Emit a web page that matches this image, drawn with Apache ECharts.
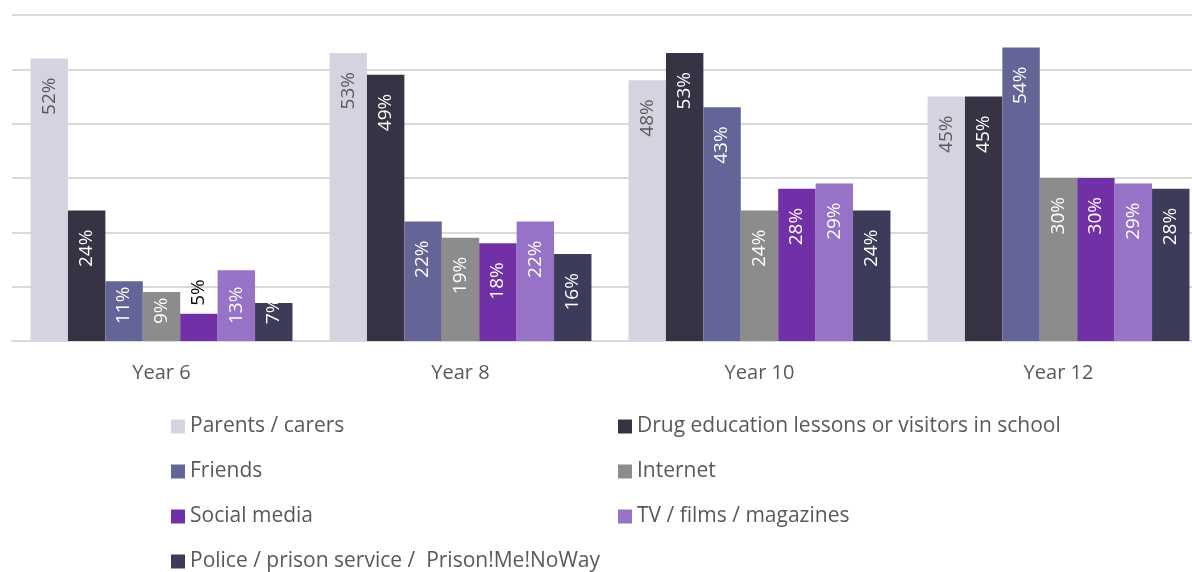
<!DOCTYPE html>
<html><head><meta charset="utf-8">
<script src="https://cdn.jsdelivr.net/npm/echarts@6/dist/echarts.min.js"></script>
<style>html,body{margin:0;padding:0;background:#fff}#c{width:1192px;height:572px}</style>
</head><body><div id="c"></div>
<script>
const categories = ['Year 6', 'Year 8', 'Year 10', 'Year 12'];
const parents = [52, 53, 48, 45];
const drugEducation = [24, 49, 53, 45];
const friends = [11, 22, 43, 54];
const internet = [9, 19, 24, 30];
const socialMedia = [5, 18, 28, 30];
const tvFilms = [13, 22, 29, 29];
const police = [7, 16, 24, 28];

const seriesDefs = [
  {name: 'Parents / carers', data: parents, color: '#D4D3E0', label: '#595959'},
  {name: 'Drug education lessons or visitors in school', data: drugEducation, color: '#373345', label: '#FFFFFF'},
  {name: 'Friends', data: friends, color: '#646496', label: '#FFFFFF'},
  {name: 'Internet', data: internet, color: '#8C8C8C', label: '#FFFFFF'},
  {name: 'Social media', data: socialMedia, color: '#7230A6', label: '#FFFFFF'},
  {name: 'TV / films / magazines', data: tvFilms, color: '#9673C6', label: '#FFFFFF'},
  {name: 'Police / prison service /  Prison!Me!NoWay', data: police, color: '#3C3C5A', label: '#FFFFFF'}
];
const FONT = '"Open Sans", sans-serif';
const chart = echarts.init(document.getElementById('c'));
const legendBase = {
  orient: 'vertical', itemWidth: 14, itemHeight: 14, itemGap: 24, padding: 0,
  icon: 'rect', textStyle: {color: '#595959', fontSize: 21, fontFamily: FONT}
};
function labelFor(v) {
  if (v <= 5) return {position: 'top', align: 'left', distance: 8, color: '#000000'};
  if (v <= 13) return {position: 'insideBottom', align: 'left', distance: 17};
  return null;
}
chart.setOption({
  animation: false,
  grid: {left: 12, top: 15, width: 1196, height: 326, outerBoundsMode: 'none'},
  xAxis: {
    type: 'category', data: categories,
    axisLine: {lineStyle: {color: '#D9D9D9', width: 2}},
    axisTick: {show: false},
    axisLabel: {color: '#595959', fontSize: 20, fontFamily: FONT, margin: 22}
  },
  yAxis: {
    type: 'value', min: 0, max: 60, interval: 10,
    axisLabel: {show: false}, axisLine: {show: false}, axisTick: {show: false},
    splitLine: {lineStyle: {color: '#D9D9D9', width: 2}}
  },
  legend: [
    Object.assign({}, legendBase, {left: 171, top: 416, data: [seriesDefs[0].name, seriesDefs[2].name, seriesDefs[4].name]}),
    Object.assign({}, legendBase, {left: 171, top: 551, data: [seriesDefs[6].name]}),
    Object.assign({}, legendBase, {left: 618, top: 416, data: [seriesDefs[1].name, seriesDefs[3].name, seriesDefs[5].name]})
  ],
  series: seriesDefs.map(s => ({
    name: s.name, type: 'bar', barGap: '0%', barCategoryGap: '12.4%',
    itemStyle: {color: s.color},
    data: s.data.map(v => {
      const l = labelFor(v);
      return l ? {value: v, label: l} : v;
    }),
    label: {
      show: true, position: 'insideTop', rotate: 90, align: 'right', verticalAlign: 'middle',
      distance: 19, color: s.label, fontSize: 19, fontFamily: FONT,
      formatter: p => p.value + '%'
    }
  }))
});
</script></body></html>
